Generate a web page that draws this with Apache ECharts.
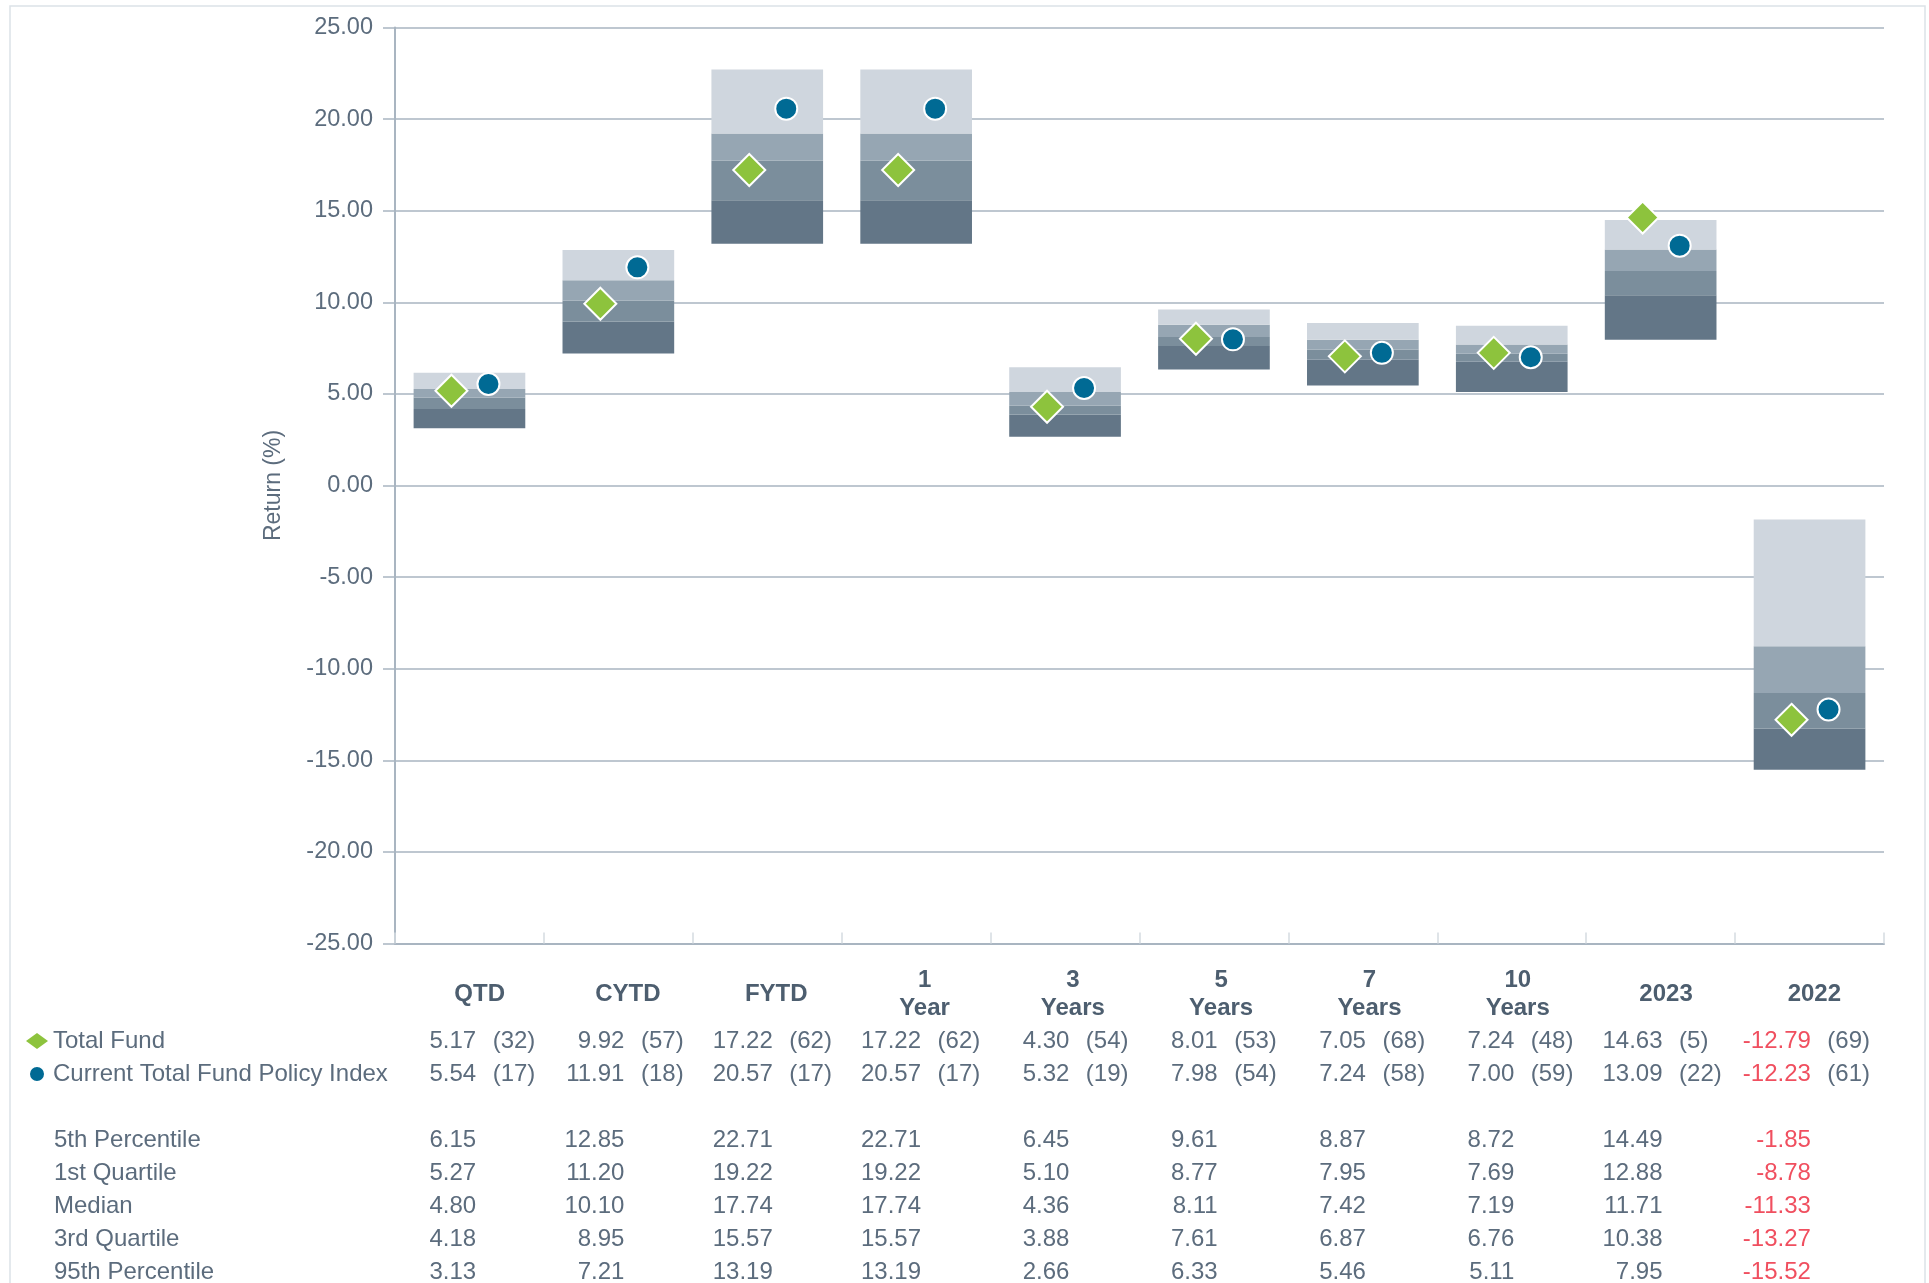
<!DOCTYPE html>
<html>
<head>
<meta charset="utf-8">
<script src="https://cdn.jsdelivr.net/npm/echarts@6/dist/echarts.min.js"></script>
<style>
html, body { margin: 0; padding: 0; background: #fff; }
#chart { width: 1929px; height: 1283px; }
</style>
</head>
<body>
<div id="chart"></div>
<script>
var categories = ['QTD', 'CYTD', 'FYTD', '1\nYear', '3\nYears', '5\nYears', '7\nYears', '10\nYears', '2023', '2022'];
var yMin = -25, yMax = 25, yStep = 5;

var totalFund = [5.17, 9.92, 17.22, 17.22, 4.30, 8.01, 7.05, 7.24, 14.63, -12.79];
var totalFundRank = [32, 57, 62, 62, 54, 53, 68, 48, 5, 69];
var policyIndex = [5.54, 11.91, 20.57, 20.57, 5.32, 7.98, 7.24, 7.00, 13.09, -12.23];
var policyIndexRank = [17, 18, 17, 17, 19, 54, 58, 59, 22, 61];

var pct5 = [6.15, 12.85, 22.71, 22.71, 6.45, 9.61, 8.87, 8.72, 14.49, -1.85];
var quart1 = [5.27, 11.20, 19.22, 19.22, 5.10, 8.77, 7.95, 7.69, 12.88, -8.78];
var median = [4.80, 10.10, 17.74, 17.74, 4.36, 8.11, 7.42, 7.19, 11.71, -11.33];
var quart3 = [4.18, 8.95, 15.57, 15.57, 3.88, 7.61, 6.87, 6.76, 10.38, -13.27];
var pct95 = [3.13, 7.21, 13.19, 13.19, 2.66, 6.33, 5.46, 5.11, 7.95, -15.52];

var rowNames = ['5th Percentile', '1st Quartile', 'Median', '3rd Quartile', '95th Percentile'];

var FONT = '"Liberation Sans", Arial, sans-serif';
var GRAY = '#5c6c7d';
var HEAD = '#4d5e6f';
var RED = '#f04f5f';
var AXIS = '#a9b5c1';

var chart = echarts.init(document.getElementById('chart'));

function diff(a, b) {
    return a.map(function (v, i) { return +(v - b[i]).toFixed(2); });
}

// table: values hang below grid 2 (right aligned), ranks below grid 3 (left aligned)
function tableAxis(grid, offset, align, fmt, colorFn) {
    return {
        type: 'category',
        gridIndex: grid,
        data: categories,
        position: 'bottom',
        offset: offset,
        axisLine: { show: false },
        axisTick: { show: false },
        splitLine: { show: false },
        axisLabel: {
            interval: 0,
            margin: 0,
            align: align,
            verticalAlign: 'middle',
            fontSize: 24,
            fontFamily: FONT,
            color: colorFn,
            formatter: fmt
        }
    };
}
function valueAxis(offset, vals) {
    return tableAxis(2, offset, 'right',
        function (v, i) { return vals[i].toFixed(2); },
        function (v, i) { return vals[i] < 0 ? RED : GRAY; });
}
function rankAxis(offset, ranks) {
    return tableAxis(3, offset, 'left',
        function (v, i) { return '(' + ranks[i] + ')'; },
        GRAY);
}

function band(name, data, color) {
    return {
        name: name,
        type: 'bar',
        stack: 'range',
        stackStrategy: 'all',
        barWidth: '75%',
        data: data,
        silent: true,
        emphasis: { disabled: true },
        itemStyle: { color: color }
    };
}

var rowY = [1140, 1173, 1206, 1239, 1272];
var labels = rowNames.map(function (t, i) {
    return {
        type: 'text',
        x: 54,
        y: rowY[i],
        style: { text: t, fill: GRAY, font: '24px ' + FONT, textVerticalAlign: 'middle', verticalAlign: 'middle' }
    };
});

var option = {
    backgroundColor: '#ffffff',
    animation: false,
    graphic: [{
        type: 'rect',
        shape: { x: 10, y: 6, width: 1915, height: 1320 },
        style: { fill: 'none', stroke: '#dce2e8', lineWidth: 1.5 },
        silent: true
    }].concat(labels),
    legend: {
        orient: 'vertical',
        left: 26,
        top: 1028,
        padding: 0,
        itemWidth: 22,
        itemHeight: 16,
        itemGap: 7,
        selectedMode: false,
        data: [
            { name: 'Total Fund', itemStyle: { borderWidth: 0 } },
            { name: 'Current Total Fund Policy Index', itemStyle: { borderColor: '#ffffff', borderWidth: 2 } }
        ],
        textStyle: { color: GRAY, fontSize: 24, fontFamily: FONT, lineHeight: 26 }
    },
    grid: [
        { left: 395, right: 45, top: 27.5, bottom: 339.5, outerBoundsMode: 'none' },
        { left: 405.5, width: 1483, top: 950, height: 10, outerBoundsMode: 'none' },
        { left: 402, width: 1483, top: 950, height: 10, outerBoundsMode: 'none' },
        { left: 418.5, width: 1483, top: 950, height: 10, outerBoundsMode: 'none' }
    ],
    xAxis: [
        {
            type: 'category',
            gridIndex: 0,
            data: categories,
            axisLine: { onZero: false, lineStyle: { color: AXIS, width: 2 } },
            axisTick: { show: true, inside: true, length: 11, lineStyle: { color: '#d5dbe1', width: 1.5 } },
            axisLabel: { show: false },
            splitLine: { show: false }
        },
        {
            type: 'category',
            gridIndex: 1,
            data: categories,
            position: 'bottom',
            offset: 34,
            axisLine: { show: false },
            axisTick: { show: false },
            axisLabel: {
                interval: 0,
                margin: 0,
                verticalAlign: 'middle',
                color: HEAD,
                fontSize: 24,
                fontWeight: 'bold',
                lineHeight: 28,
                fontFamily: FONT
            }
        },
        valueAxis(81, totalFund),
        valueAxis(114, policyIndex),
        valueAxis(180, pct5),
        valueAxis(213, quart1),
        valueAxis(246, median),
        valueAxis(279, quart3),
        valueAxis(312, pct95),
        rankAxis(81, totalFundRank),
        rankAxis(114, policyIndexRank)
    ],
    yAxis: [
        {
            type: 'value',
            gridIndex: 0,
            min: yMin,
            max: yMax,
            interval: yStep,
            name: 'Return (%)',
            nameLocation: 'middle',
            nameGap: 110,
            nameTextStyle: { color: GRAY, fontSize: 23, fontFamily: FONT },
            axisLine: { show: true, lineStyle: { color: AXIS, width: 2 } },
            axisTick: { show: true, length: 12, lineStyle: { color: AXIS, width: 1.5 } },
            axisLabel: {
                margin: 22,
                color: GRAY,
                fontSize: 23.5,
                fontFamily: FONT,
                formatter: function (v) { return v.toFixed(2); }
            },
            splitLine: { show: true, lineStyle: { color: AXIS, width: 1.5 } }
        },
        { type: 'value', gridIndex: 1, show: false },
        { type: 'value', gridIndex: 2, show: false },
        { type: 'value', gridIndex: 3, show: false }
    ],
    series: [
        band('base', pct95, 'rgba(0,0,0,0)'),
        band('q3band', diff(quart3, pct95), '#637687'),
        band('medband', diff(median, quart3), '#7b8e9c'),
        band('q1band', diff(quart1, median), '#96a6b3'),
        band('p5band', diff(pct5, quart1), '#cfd6de'),
        {
            name: 'Total Fund',
            type: 'scatter',
            data: totalFund,
            symbol: 'diamond',
            symbolSize: 32,
            symbolOffset: [-18, 0],
            itemStyle: { color: '#8dc33d', borderColor: '#ffffff', borderWidth: 2, opacity: 1 },
            z: 5
        },
        {
            name: 'Current Total Fund Policy Index',
            type: 'scatter',
            data: policyIndex,
            symbol: 'circle',
            symbolSize: 22,
            symbolOffset: [19, 0],
            itemStyle: { color: '#006a94', borderColor: '#ffffff', borderWidth: 2, opacity: 1 },
            z: 5
        }
    ]
};

chart.setOption(option);
</script>
</body>
</html>
